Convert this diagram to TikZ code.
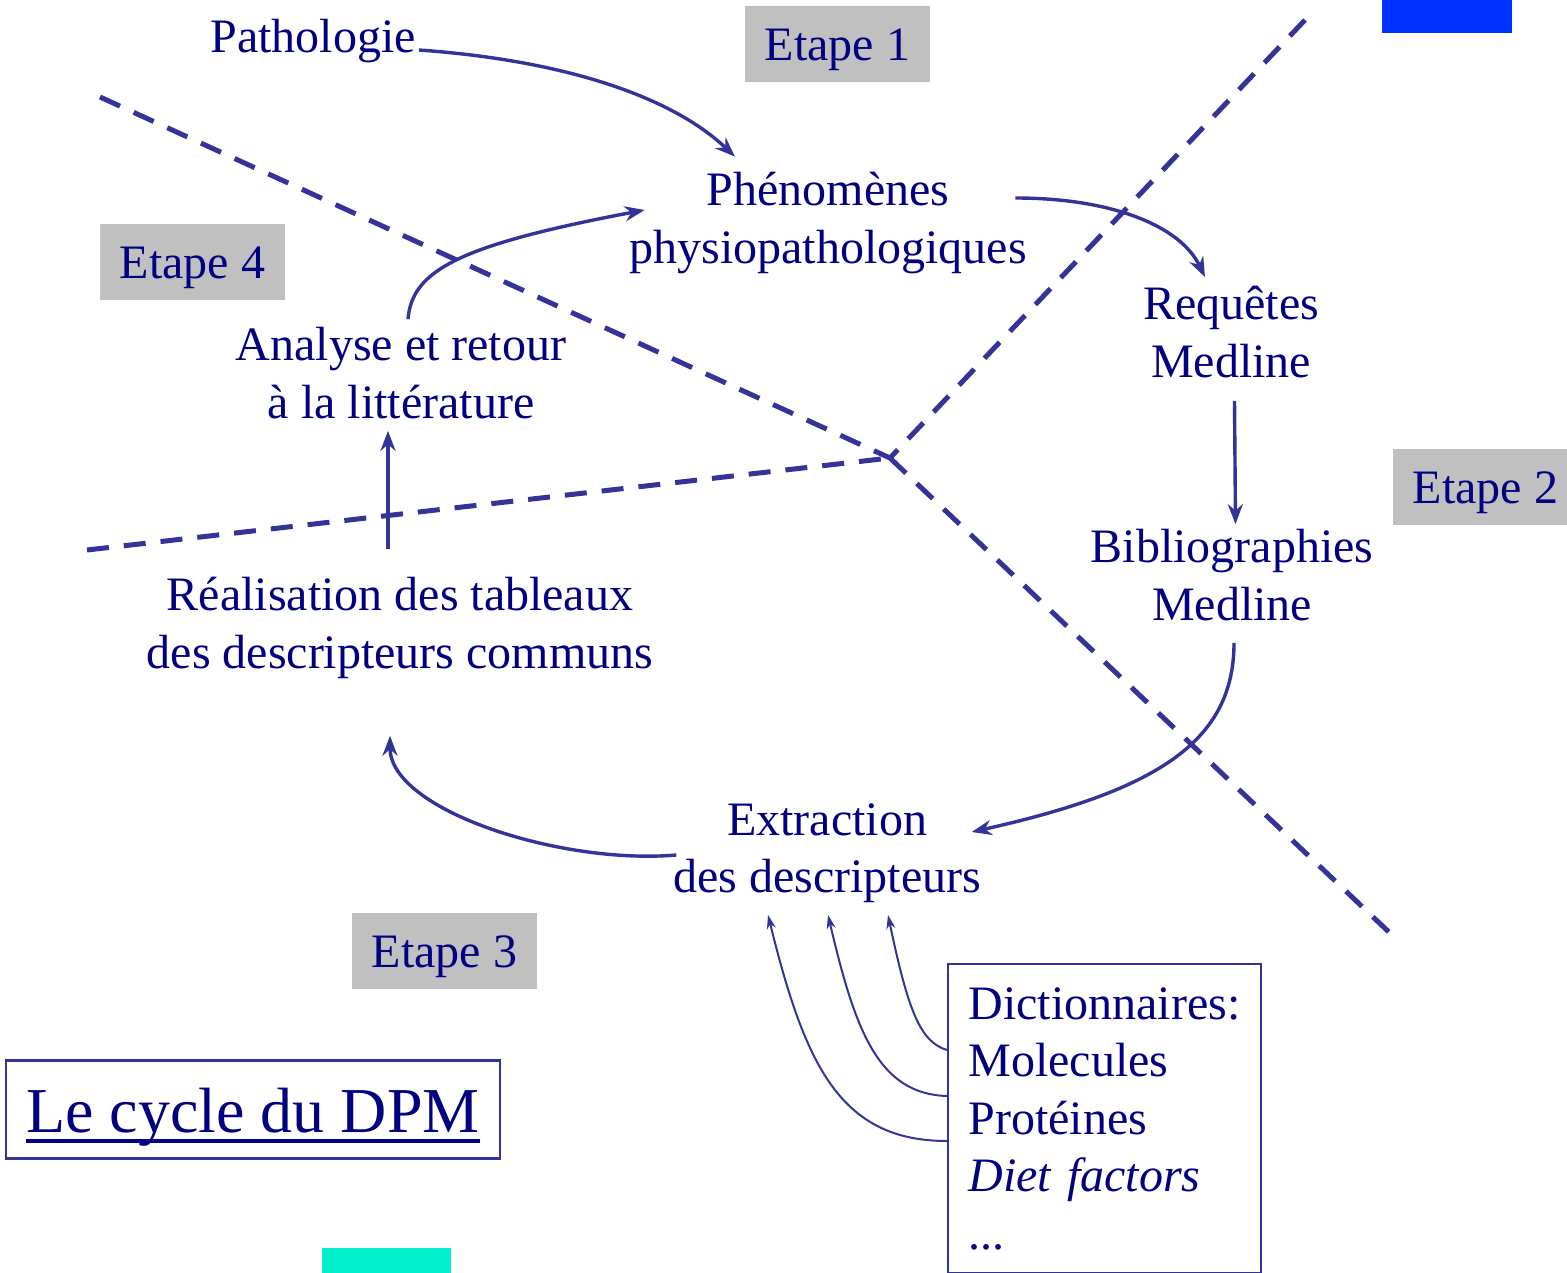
\documentclass[tikz,border=0pt]{standalone}
\usepackage{fontspec}
\setmainfont{Liberation Serif}
\usetikzlibrary{arrows.meta,calc}
\definecolor{navytext}{RGB}{0,0,128}
\definecolor{linecol}{RGB}{51,51,153}
\definecolor{etapegray}{RGB}{192,192,192}
\definecolor{topblue}{RGB}{0,51,255}
\definecolor{tealbar}{RGB}{0,240,204}
\begin{document}
\begin{tikzpicture}[x=1pt,y=-1pt,
  txt/.style={font=\fontsize{48}{57.5}\selectfont, text=navytext, inner sep=0pt, align=center},
  etape/.style={fill=etapegray, font=\fontsize{48}{57.5}\selectfont, text=navytext, inner sep=0pt,
                minimum width=185pt, minimum height=76pt, text height=33pt, text depth=0pt},
  arr/.style={draw=linecol, line width=3.4pt, -{Stealth[length=20pt,width=15pt]}},
  thinarr/.style={draw=linecol, line width=2pt, -{Stealth[length=14pt,width=9pt]}},
  sepline/.style={draw=linecol, line width=5pt, dash pattern=on 22pt off 15pt},
]
\useasboundingbox (0,0) rectangle (1567,1273);

% coloured bars
\fill[topblue] (1382,0) rectangle (1512,33);
\fill[tealbar] (322,1248) rectangle (451,1273);

% dashed separators
\coordinate (X) at (890,458);
\coordinate (dUL) at (100,97);
\coordinate (dL) at (87,550);
\coordinate (dUR) at (1305,20);
\coordinate (dLR) at (1392,935);
\draw[sepline] (dUL) -- (X);
\draw[sepline] (dL) -- (X);
\draw[sepline] (dUR) -- (X);
\draw[sepline] (X) -- (dLR);

% stage labels
\node[etape] (e1) at (837.5,44.5) {Etape 1};
\node[etape] (e4) at (192.5,262.5) {Etape 4};
\node[etape] (e2) at (1485.5,486.5) {Etape 2};
\node[etape] (e3) at (444.5,950.5) {Etape 3};

% text nodes
\node[txt, anchor=base] (patho) at (313,53) {Pathologie};
\node[txt] (phen) at (828,223) {Phénomènes\\physiopathologiques};
\node[txt] (req) at (1231,332) {Requêtes\\Medline};
\node[txt] (bib) at (1232,575) {Bibliographies\\Medline};
\node[txt] (ext) at (827,853) {Extraction\\des descripteurs};
\node[txt] (real) at (400,628) {Réalisation des tableaux\\des descripteurs communs};
\node[txt] (anal) at (401,373) {Analyse et retour\\à la littérature};

\node[draw=linecol, line width=2pt, anchor=north west, minimum width=313pt, minimum height=309pt,
      inner xsep=20pt, inner ysep=0pt, text width=272pt, align=left,
      font=\fontsize{48}{57.5}\selectfont, text=navytext] (dict) at (947,963)
      {Dictionnaires:\\Molecules\\Protéines\\\textit{Diet factors}\\...};

\node[draw=linecol, line width=2.5pt, minimum width=494pt, minimum height=98pt,
      font=\fontsize{64}{70}\selectfont, text=navytext, text height=45pt, text depth=0pt,
      inner sep=0pt] (title) at (253,1109.5) {Le cycle du DPM};
\draw[navytext, line width=3.5pt] ($(title.base)+(-227,9)$) -- ($(title.base)+(227,9)$);

% connectors
\draw[arr] ($(patho.base east)+(3,-3)$) .. controls (560,60) and (670,95) .. ($(phen.north)+(-93,-15.5)$);
\draw[arr] ($(phen.east)+(-11.5,-25)$) .. controls (1110,198) and (1180,225) .. ($(req.north)+(-26,-9)$);
\draw[arr] ($(req.south)+(3.5,23)$) -- ($(bib.north)+(3.5,-5)$);
\draw[arr] ($(bib.south)+(2,22)$) .. controls (1234,740) and (1160,790) .. ($(ext.east)+(-9.5,-21)$);
\draw[arr] ($(ext.west)+(3.5,2)$) .. controls (560,865) and (390,810) .. ($(real.south)+(-10,57)$);
\draw[arr] ($(real.north)+(-12,-28)$) -- ($(anal.south)+(-13,12)$);
\draw[arr] ($(anal.north)+(7,-8)$) .. controls (412,270) and (460,245) .. ($(phen.west)+(15.5,-13)$);

\draw[thinarr] ($(dict.west)+(0,-68.5)$) .. controls (920,1042) and (908,1010) .. ($(ext.south)+(61,12)$);
\draw[thinarr] ($(dict.west)+(0,-22.5)$) .. controls (878,1094) and (855,1030) .. ($(ext.south)+(1,12)$);
\draw[thinarr] ($(dict.west)+(0,22.5)$) .. controls (840,1141) and (805,1065) .. ($(ext.south)+(-59,12)$);
\end{tikzpicture}
\end{document}
